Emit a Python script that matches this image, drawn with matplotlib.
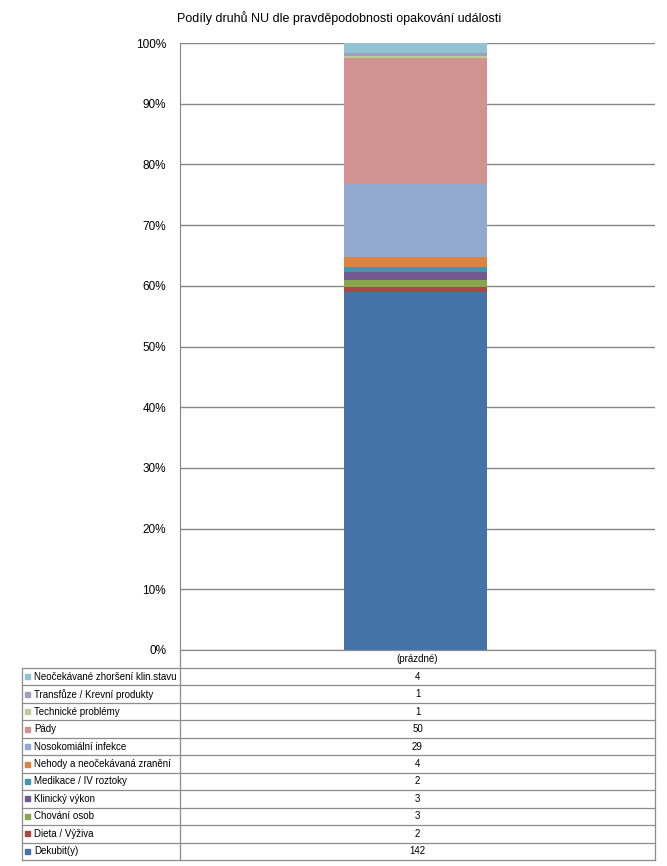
import matplotlib
matplotlib.use("Agg")
import matplotlib.pyplot as plt
from matplotlib.lines import Line2D
from matplotlib.patches import Rectangle

categories = ["Dekubit(y)", "Dieta / Výživa", "Chování osob", "Klinický výkon",
              "Medikace / IV roztoky", "Nehody a neočekávaná zranění",
              "Nosokomiální infekce", "Pády", "Technické problémy",
              "Transfůze / Krevní produkty", "Neočekávané zhoršení klin.stavu"]
values = [142, 2, 3, 3, 2, 4, 29, 50, 1, 1, 4]
colors = ["#4572A7", "#AA4643", "#89A54E", "#71588F", "#4198AF", "#DB843D",
          "#93A9CF", "#D19392", "#B9CD96", "#A99BBD", "#92C3D4"]
column_label = "(prázdné)"
title = "Podíly druhů NU dle pravděpodobnosti opakování události"
yticks = [0, 10, 20, 30, 40, 50, 60, 70, 80, 90, 100]

W, H = 667, 866
plt.rcParams['font.family'] = ['Liberation Sans', 'DejaVu Sans']
fig = plt.figure(figsize=(W / 100, H / 100), dpi=100)

def fx(x):
    return x / W

def fy(y):
    return 1 - y / H

L, R, T, B = 180, 655, 43, 650
ax = fig.add_axes([fx(L), fy(B), fx(R) - fx(L), fy(T) - fy(B)])
total = sum(values)
bottom = 0.0
for v, c in zip(values, colors):
    pct = v / total * 100
    ax.bar(0, pct, bottom=bottom, width=0.301, color=c, zorder=3)
    bottom += pct
ax.set_xlim(-0.496, 0.504)
ax.set_ylim(0, 100)
ax.set_yticks(yticks)
ax.set_yticklabels([f"{t}%" for t in yticks], fontsize=8.5)
ax.yaxis.grid(True, color="#868686", linewidth=1.0, zorder=0)
ax.set_xticks([])
for s in ["top", "right", "bottom"]:
    ax.spines[s].set_visible(False)
ax.spines["left"].set_color("#868686")
ax.tick_params(axis="y", length=0, pad=10)

fig.text(fx(339), fy(18), title, ha="center", va="center", fontsize=9)

# data table
line_c = "#8C8C8C"
TL, TR = 22, 655
head_top, head_bot = 650, 668
row_h = (860 - 668) / len(categories)
rows_bottom = head_bot + row_h * len(categories)

def hline(x0, x1, y):
    fig.add_artist(Line2D([fx(x0), fx(x1)], [fy(y), fy(y)], color=line_c, lw=0.9,
                          transform=fig.transFigure))

def vline(x, y0, y1):
    fig.add_artist(Line2D([fx(x), fx(x)], [fy(y0), fy(y1)], color=line_c, lw=0.9,
                          transform=fig.transFigure))

hline(L, TR, head_top)
hline(TL, TR, head_bot)
vline(L, head_top, rows_bottom)
vline(TR, head_top, rows_bottom)
vline(TL, head_bot, rows_bottom)
fig.text(fx((L + TR) / 2), fy((head_top + head_bot) / 2), column_label,
         ha="center", va="center", fontsize=7)

order = list(range(len(categories)))[::-1]
for i, idx in enumerate(order):
    y0 = head_bot + i * row_h
    y1 = y0 + row_h
    yc = (y0 + y1) / 2
    hline(TL, TR, y1)
    fig.add_artist(Rectangle((fx(25), fy(yc + 2.5)), fx(5), 5 / H,
                             color=colors[idx], transform=fig.transFigure))
    fig.text(fx(34), fy(yc), categories[idx], ha="left", va="center", fontsize=7)
    fig.text(fx((L + TR) / 2), fy(yc), str(values[idx]), ha="center", va="center",
             fontsize=7)

fig.savefig("out.png", dpi=100)
